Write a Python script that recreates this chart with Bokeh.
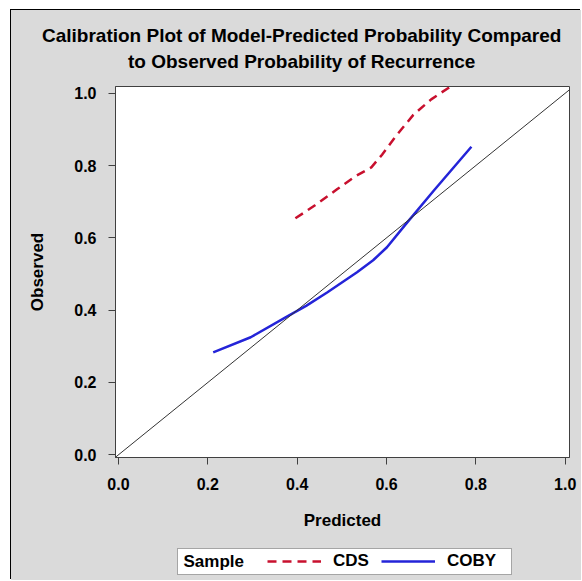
from bokeh.plotting import figure
from bokeh.layouts import column
from bokeh.models import (Range1d, FixedTicker, Slope, Legend, LegendItem, Label, Title,
                          BoxAnnotation, PrintfTickFormatter)
from bokeh.embed import file_html
from bokeh.resources import INLINE

# ---- data ----
title_lines = ["Calibration Plot of Model-Predicted Probability Compared",
               "to Observed Probability of Recurrence"]
x_label = "Predicted"
y_label = "Observed"
ticks = [0.0, 0.2, 0.4, 0.6, 0.8, 1.0]
legend_title = "Sample"
series_names = ["CDS", "COBY"]

cds_pred = [0.396, 0.44, 0.49, 0.53, 0.566, 0.59, 0.62, 0.66, 0.70, 0.745]
cds_obs = [0.654, 0.69, 0.735, 0.77, 0.795, 0.83, 0.88, 0.94, 0.983, 1.02]

coby_pred = [0.212, 0.296, 0.374, 0.42, 0.467, 0.534, 0.57, 0.601, 0.646, 0.706, 0.79]
coby_obs = [0.283, 0.325, 0.38, 0.412, 0.449, 0.505, 0.538, 0.574, 0.642, 0.731, 0.852]

# ---- styles ----
FONT = "Liberation Sans"
BG = "#dadada"
RED = "#c8102e"
BLUE = "#2424d8"
W = 570


def blank(height, **kw):
    f = figure(width=W, height=height, output_backend="svg", toolbar_location=None,
               x_axis_type=None, y_axis_type=None,
               background_fill_color=BG, border_fill_color=BG,
               outline_line_color=None, **kw)
    f.grid.visible = False
    return f


# ---- title strip (titles live in the side panel, so they are not clipped) ----
pt = blank(70, min_border_left=0, min_border_right=0, min_border_bottom=0,
           min_border_top=64)
title_kw = dict(align="left", text_font=FONT, text_font_style="bold",
                text_font_size="19px", text_color="black")
pt.add_layout(Title(text=title_lines[1], offset=12.5, standoff=6, **title_kw), "above")
pt.add_layout(Title(text=title_lines[0], offset=-73.5, standoff=0, **title_kw), "above")

# ---- main plot ----
p = figure(width=W, height=457, output_backend="svg", toolbar_location=None,
           x_range=Range1d(-0.0067, 1.0096), y_range=Range1d(-0.0075, 1.0186),
           min_border_left=104, min_border_right=12, min_border_top=6,
           min_border_bottom=80,
           background_fill_color="white", border_fill_color=BG,
           outline_line_color="#404040", outline_line_width=1)
p.grid.visible = False

for ax in (p.xaxis[0], p.yaxis[0]):
    ax.ticker = FixedTicker(ticks=ticks)
    ax.formatter = PrintfTickFormatter(format="%.1f")
    ax.major_tick_in = 0
    ax.major_tick_out = 7
    ax.minor_tick_in = 0
    ax.minor_tick_out = 0
    ax.axis_line_color = "#404040"
    ax.major_tick_line_color = "#404040"
    ax.major_label_text_font = FONT
    ax.major_label_text_font_style = "bold"
    ax.major_label_text_font_size = "16px"
    ax.major_label_text_color = "black"
    ax.axis_label_text_font = FONT
    ax.axis_label_text_font_style = "bold"
    ax.axis_label_text_font_size = "17px"
    ax.axis_label_text_color = "black"

p.xaxis.axis_label = x_label
p.yaxis.axis_label = y_label
p.xaxis.major_label_standoff = 13
p.xaxis.axis_label_standoff = 18
p.yaxis.major_label_standoff = 12
p.yaxis.axis_label_standoff = 24

p.add_layout(Slope(gradient=1, y_intercept=0, line_color="#333333", line_width=1))

cds_style = dict(line_color=RED, line_width=2.5, line_dash="9 6")
coby_style = dict(line_color=BLUE, line_width=2.5)
p.line(cds_pred, cds_obs, **cds_style)
p.line(coby_pred, coby_obs, **coby_style)

# ---- legend strip (its frame is aligned with the main frame) ----
pl = blank(43, min_border=0, x_range=Range1d(10, 11), y_range=Range1d(10, 11))
pl.add_layout(BoxAnnotation(left=62, right=396, top=32, bottom=6,
                            left_units="screen", right_units="screen",
                            top_units="screen", bottom_units="screen",
                            fill_color="white", fill_alpha=1,
                            line_color="black", line_width=1))
pl.add_layout(Label(x=68, y=19, x_units="screen", y_units="screen",
                    text=legend_title, text_align="left", text_baseline="middle",
                    text_font=FONT, text_font_style="bold",
                    text_font_size="17px", text_color="black"))
# legend keys: same series, drawn outside this strip's visible range
k_cds = pl.line(cds_pred, cds_obs, **cds_style)
k_coby = pl.line(coby_pred, coby_obs, **coby_style)
legend = Legend(items=[LegendItem(label=series_names[0], renderers=[k_cds]),
                       LegendItem(label=series_names[1], renderers=[k_coby])],
                orientation="horizontal", location=(152, 9),
                glyph_width=54, glyph_height=20, label_height=20,
                label_standoff=12, spacing=12, padding=0, margin=0,
                border_line_color=None, background_fill_alpha=0,
                label_text_font=FONT, label_text_font_style="bold",
                label_text_font_size="17px", label_text_color="black")
pl.add_layout(legend)

layout = column(pt, p, pl, spacing=0)
layout.margin = (10, 0, 0, 11)
layout.styles = {"box-shadow": "-1px -1px 0 0 #000", "background-color": BG}

open("out.html", "w").write(file_html(layout, INLINE))
